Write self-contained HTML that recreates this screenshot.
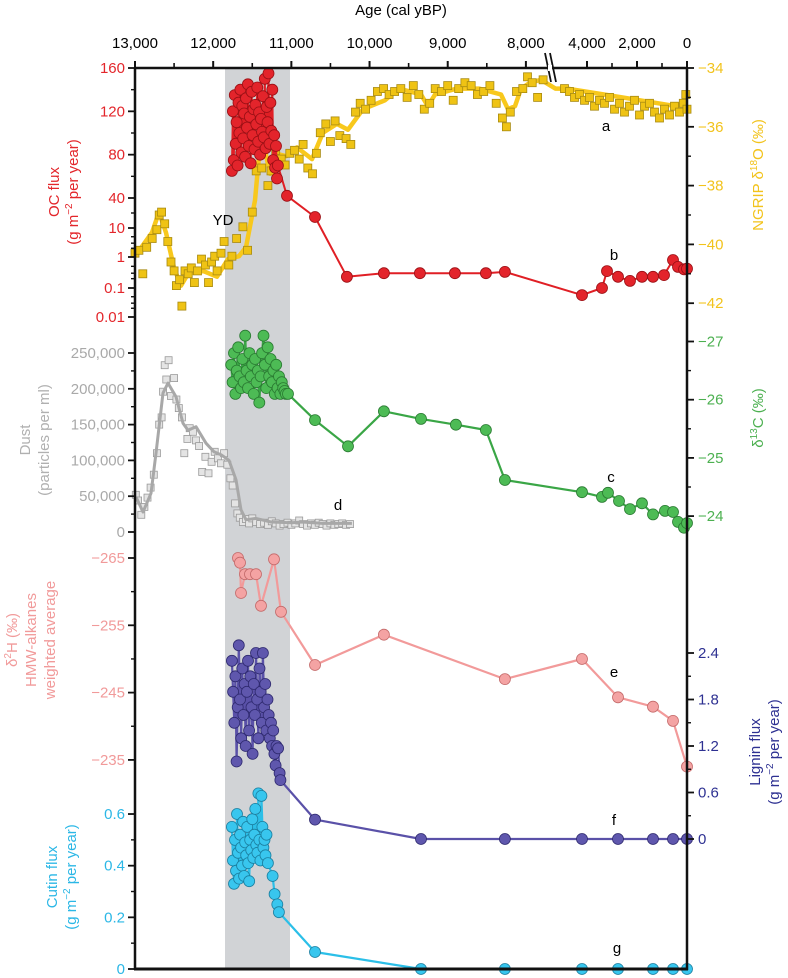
<!DOCTYPE html>
<html><head><meta charset="utf-8"><style>
html,body{margin:0;padding:0;background:#fff;}
svg{display:block;font-family:"Liberation Sans",sans-serif;}
</style></head><body>
<svg id="chart" width="788" height="978" viewBox="0 0 788 978" xmlns="http://www.w3.org/2000/svg">
<rect x="0" y="0" width="788" height="978" fill="#fff"/>
<rect x="225" y="69" width="65" height="900" fill="#d1d3d6"/>
<g id="plot"></g>
<g id="axes"></g>
<text x="401" y="15" font-size="15" text-anchor="middle">Age (cal yBP)</text>
<text x="223" y="225" font-size="15" text-anchor="middle">YD</text>
<text x="606" y="131" font-size="15" text-anchor="middle">a</text>
<text x="614" y="260" font-size="15" text-anchor="middle">b</text>
<text x="611" y="482" font-size="15" text-anchor="middle">c</text>
<text x="338" y="510" font-size="15" text-anchor="middle">d</text>
<text x="614" y="677" font-size="15" text-anchor="middle">e</text>
<text x="614" y="825" font-size="15" text-anchor="middle">f</text>
<text x="617" y="953" font-size="15" text-anchor="middle">g</text>
<g font-size="15" text-anchor="middle">
<text transform="translate(59,192) rotate(-90)" fill="#e3262b">OC flux</text>
<text transform="translate(78,192) rotate(-90)" fill="#e3262b">(g m<tspan font-size="10" dy="-6">−2</tspan><tspan dy="6"> per year)</tspan></text>
<text transform="translate(30,440) rotate(-90)" fill="#b0b0b0">Dust</text>
<text transform="translate(49,440) rotate(-90)" fill="#b0b0b0">(particles per ml)</text>
<text transform="translate(17,640) rotate(-90)" fill="#f19a9a">δ<tspan font-size="10" dy="-6">2</tspan><tspan dy="6">H (‰)</tspan></text>
<text transform="translate(36,640) rotate(-90)" fill="#f19a9a">HMW-alkanes</text>
<text transform="translate(55,640) rotate(-90)" fill="#f19a9a">weighted average</text>
<text transform="translate(57,877) rotate(-90)" fill="#2bb7e6">Cutin flux</text>
<text transform="translate(76,877) rotate(-90)" fill="#2bb7e6">(g m<tspan font-size="10" dy="-6">−2</tspan><tspan dy="6"> per year)</tspan></text>
<text transform="translate(763,175) rotate(-90)" fill="#f2c31c">NGRIP δ<tspan font-size="10" dy="-6">18</tspan><tspan dy="6">O (‰)</tspan></text>
<text transform="translate(763,418) rotate(-90)" fill="#4cb050">δ<tspan font-size="10" dy="-6">13</tspan><tspan dy="6">C (‰)</tspan></text>
<text transform="translate(760,752) rotate(-90)" fill="#2e3192">Lignin flux</text>
<text transform="translate(779,752) rotate(-90)" fill="#2e3192">(g m<tspan font-size="10" dy="-6">−2</tspan><tspan dy="6"> per year)</tspan></text>
</g>
</svg>
<script>
// ---------- data ----------
const topTickAges = [13000,12000,11000,10000,9000,8000,4000,2000,0];
const topTickLabels = ["13,000","12,000","11,000","10,000","9,000","8,000","4,000","2,000","0"];
const topMinorAges = [12500,11500,10500,9500,8500,3000,1000];

const ocTicks = [160,120,80,40,10,1,0.1,0.01];
const ocTickLabels = ["160","120","80","40","10","1","0.1","0.01"];
const o18Ticks = [-34,-36,-38,-40,-42];
const c13Ticks = [-27,-26,-25,-24];
const dustTicks = [0,50000,100000,150000,200000,250000];
const dustTickLabels = ["0","50,000","100,000","150,000","200,000","250,000"];
const h2Ticks = [-265,-255,-245,-235];
const ligTicks = [0,0.6,1.2,1.8,2.4];
const cutTicks = [0,0.2,0.4,0.6];

const ocAge = [11760,11748,11736,11724,11712,11700,11688,11676,11664,11652,11640,11628,11616,11604,11592,11580,11568,11556,11544,11532,11520,11508,11496,11484,11472,11460,11448,11436,11424,11412,11400,11388,11376,11364,11352,11340,11328,11316,11304,11292,11280,11268,11256,11244,11232,11220,11208,11196,11184,11172,11056,10698,10289,9816,9356,8908,8512,8269,4200,3400,3200,2760,2280,1800,1360,920,560,360,120,0];
const ocVal = [65,120,75,135,90,110,70,128,100,140,82,125,95,118,78,132,105,145,88,115,72,138,98,122,85,126,108,142,92,119,80,113,101,134,96,150,86,124,110,155,90,128,102,140,75,98,68,88,58,70,42,16.6,0.23,0.3,0.3,0.3,0.3,0.33,0.057,0.1,0.35,0.23,0.17,0.23,0.23,0.26,0.8,0.48,0.4,0.42];

const o18SmoothAge = [13000,12783,12693,12604,12501,12412,12322,12130,11951,11811,11670,11580,11465,11414,11337,11273,11209,11069,10928,10736,10596,10417,10276,10084,9803,9624,9342,9253,9163,8882,8600,8319,8229,8140,8063,7948,7807,6420,4800,3320,1880,440,0];
const o18SmoothVal = [-40.4,-39.6,-38.9,-39.6,-40.8,-41.4,-41.0,-40.9,-41.1,-40.5,-40.4,-40.1,-38.5,-37.0,-36.8,-37.6,-36.9,-37.0,-36.7,-37.1,-36.2,-35.9,-36.1,-35.4,-35.1,-34.7,-34.9,-35.3,-34.9,-34.7,-34.7,-34.9,-35.4,-35.3,-34.7,-34.5,-34.4,-34.7,-34.7,-34.9,-35.1,-35.3,-35.1];
const o18Age = [13000,12950,12900,12850,12780,12720,12690,12660,12620,12580,12540,12500,12470,12430,12400,12360,12320,12280,12240,12200,12150,12100,12060,12020,11980,11950,11900,11860,11800,11760,11700,11620,11560,11500,11450,11380,11300,11260,11200,11130,11080,11020,10960,10900,10850,10790,10730,10680,10630,10560,10500,10440,10380,10300,10240,10180,10120,10050,9980,9900,9820,9750,9680,9600,9520,9440,9370,9300,9230,9160,9080,9000,8930,8860,8780,8700,8620,8540,8460,8380,8300,8250,8200,8120,8040,7980,7920,7850,7780,4900,4700,4500,4300,4100,3900,3700,3500,3300,3100,2900,2700,2500,2300,2100,1900,1700,1500,1300,1100,900,700,500,300,150,50,0];
const o18Val = [-40.3,-40.2,-41.0,-40.1,-39.8,-39.5,-39.0,-38.9,-39.3,-39.9,-40.6,-40.9,-41.4,-41.2,-42.1,-40.9,-41.0,-40.8,-41.3,-40.9,-40.5,-40.7,-41.3,-40.6,-40.4,-40.9,-40.3,-39.9,-40.7,-40.4,-39.8,-39.4,-40.2,-38.9,-37.5,-37.4,-38.0,-37.5,-36.8,-37.1,-37.3,-36.9,-36.8,-37.1,-36.6,-37.4,-37.6,-36.9,-36.2,-35.9,-36.5,-35.8,-36.3,-36.4,-36.6,-35.5,-35.2,-35.4,-35.1,-34.8,-34.7,-34.9,-34.8,-34.7,-35.0,-34.6,-34.9,-35.4,-35.2,-34.7,-34.8,-34.6,-35.1,-34.7,-34.5,-34.6,-34.9,-34.8,-34.6,-35.2,-35.7,-36.0,-35.5,-34.8,-34.7,-34.3,-34.5,-35.0,-34.4,-34.7,-34.8,-35.0,-34.9,-35.1,-35.0,-35.3,-35.1,-35.2,-35.0,-35.4,-35.2,-35.5,-35.3,-35.1,-35.6,-35.3,-35.2,-35.5,-35.7,-35.4,-35.6,-35.3,-35.5,-35.2,-34.9,-35.4];

const c13Age = [11770,11752,11734,11716,11698,11680,11662,11644,11626,11608,11590,11572,11554,11536,11518,11500,11482,11464,11446,11428,11410,11392,11374,11356,11338,11320,11302,11284,11266,11248,11230,11212,11194,11176,11158,11140,11122,11104,11086,11070,11043,10698,10276,9816,9342,8895,8512,8269,4200,3400,3160,2720,2280,1800,1360,880,560,360,120,0];
const c13Val = [-26.6,-26.3,-26.8,-26.1,-26.5,-26.9,-26.4,-26.2,-26.7,-26.3,-27.1,-26.5,-26.2,-26.8,-26.4,-26.6,-26.1,-26.7,-26.3,-26.5,-25.95,-26.4,-26.8,-27.1,-26.6,-26.2,-26.9,-26.4,-26.7,-26.3,-26.5,-26.1,-26.6,-26.2,-26.4,-26.1,-26.3,-26.2,-26.15,-26.1,-26.1,-25.65,-25.2,-25.8,-25.67,-25.57,-25.48,-24.62,-24.41,-24.33,-24.4,-24.26,-24.12,-24.22,-24.03,-24.09,-24.07,-23.9,-23.8,-23.88];

const dustLineAge = [12987,12898,12795,12731,12642,12578,12476,12386,12322,12220,12092,11990,11900,11798,11708,11644,11580,11452,11260,11000,10864,10600,10225];
const dustLineVal = [49000,28000,54000,110000,194000,208000,189000,152000,142000,147000,124000,112000,108000,100000,73000,31000,17000,19000,14000,13000,14000,12000,12000];
const dustAge = [12990,12960,12920,12880,12840,12800,12760,12720,12690,12660,12640,12620,12600,12570,12540,12500,12470,12440,12400,12370,12330,12300,12260,12220,12180,12140,12100,12060,12020,11980,11940,11900,11860,11820,11780,11750,11720,11690,11660,11620,11580,11540,11500,11450,11400,11350,11300,11250,11200,11150,11100,11050,11000,10950,10900,10850,10800,10750,10700,10650,10600,10550,10500,10450,10400,10350,10300,10250];
const dustVal = [52000,44000,24000,35000,48000,62000,80000,110000,150000,160000,196000,233000,213000,240000,190000,215000,185000,173000,160000,110000,130000,145000,140000,128000,120000,84000,105000,82000,98000,112000,103000,96000,110000,94000,75000,65000,40000,26000,20000,14000,18000,12000,19000,14000,11000,13000,10000,15000,12000,9000,11000,13000,10000,12000,16000,11000,9000,12000,10000,13000,11000,9000,12000,10000,11000,12000,10000,11000];

const h2Age = [11683,11657,11644,11593,11529,11452,11388,11222,11133,10698,9816,8269,4200,2760,1360,560,0];
const h2Val = [-265,-264.3,-259.8,-262.6,-262.6,-262.6,-257.9,-264.8,-257,-249.1,-253.6,-247,-250,-244.3,-242.9,-240.8,-234];

const ligAge = [11760,11745,11730,11716,11701,11686,11672,11657,11642,11628,11613,11598,11584,11569,11554,11540,11525,11510,11496,11481,11466,11452,11437,11422,11408,11393,11378,11364,11349,11334,11320,11305,11290,11276,11261,11246,11232,11217,11202,11190,11170,11150,11140,10698,9342,8269,4200,2760,1360,560,0];
const ligVal = [2.3,1.9,1.5,2.1,1.0,1.7,2.5,1.8,1.3,2.2,1.6,2.0,1.2,1.9,2.3,1.4,2.1,1.7,1.1,2.0,1.6,2.4,1.8,1.3,2.2,1.9,1.5,2.4,1.7,2.0,1.4,1.8,1.6,1.3,1.5,1.2,1.4,1.1,0.95,1.2,1.17,0.85,0.76,0.25,0,0,0,0,0,0,0];

const cutAge = [11760,11747,11734,11721,11708,11695,11682,11669,11656,11643,11630,11617,11604,11591,11578,11565,11552,11539,11526,11513,11500,11487,11474,11461,11448,11435,11422,11409,11396,11383,11370,11357,11344,11331,11318,11300,11240,11215,11180,11160,10698,9342,8269,4200,2760,1360,560,0];
const cutVal = [0.55,0.42,0.33,0.5,0.38,0.6,0.45,0.35,0.52,0.47,0.4,0.57,0.36,0.49,0.44,0.55,0.41,0.34,0.5,0.46,0.58,0.43,0.52,0.62,0.48,0.45,0.68,0.5,0.42,0.67,0.55,0.47,0.5,0.44,0.52,0.41,0.36,0.29,0.25,0.22,0.066,0,0,0,0,0,0,0];

// ---------- scales ----------
function X(a){ if(a>=7700) return 135+(13000-a)*0.07818; if(a<=5000) return 687-a*0.025; return 549.4+(7700-a)/2700*(562-549.4); }
const ocKnots=[[40,198],[10,228],[1,257],[0.1,288],[0.01,317]];
function yOC(v){ if(v>=40) return 198-(v-40)*1.0833;
  for(let i=0;i<ocKnots.length-1;i++){ const a=ocKnots[i],b=ocKnots[i+1];
    if(v>=b[0]||i===ocKnots.length-2){ const t=(Math.log10(v)-Math.log10(a[0]))/(Math.log10(b[0])-Math.log10(a[0])); return a[1]+t*(b[1]-a[1]); } } }
function yO18(v){ return 68+(-34-v)*29.4; }
function yC13(v){ return 341.5+(v+27)*58.2; }
function yDust(v){ return 532-v*0.000716; }
function yH2(v){ return 558+(v+265)*6.73; }
function yLig(v){ return 839-v*77.5; }
function yCut(v){ return 969-v*258.3; }

const NS="http://www.w3.org/2000/svg";
const plot=document.getElementById('plot');
const axes=document.getElementById('axes');
function mk(tag,attrs,parent){ const e=document.createElementNS(NS,tag); for(const k in attrs) e.setAttribute(k,attrs[k]); (parent||plot).appendChild(e); return e; }

function line(ages,vals,ys,color,w,name){
  const d=ages.map((a,i)=>(i?'L':'M')+X(a).toFixed(1)+','+ys(vals[i]).toFixed(1)).join('');
  const p=mk('path',{d:d,fill:'none',stroke:color,'stroke-width':w,'stroke-linejoin':'round'});
  
  
}
function dots(ages,vals,ys,fill,stroke,r,name){
  ages.forEach((a,i)=>{ const c=mk('circle',{cx:X(a).toFixed(1),cy:ys(vals[i]).toFixed(1),r:r,fill:fill,stroke:stroke,'stroke-width':0.8});
    
     });
}
function squares(ages,vals,ys,fill,stroke,s,name){
  ages.forEach((a,i)=>{ const q=mk('rect',{x:(X(a)-s/2).toFixed(1),y:(ys(vals[i])-s/2).toFixed(1),width:s,height:s,fill:fill,stroke:stroke,'stroke-width':0.8});
    
     });
}

// yellow NGRIP
line(o18SmoothAge,o18SmoothVal,yO18,'#f8c81c',4.5,'ngrip-smooth-line');
squares(o18Age,o18Val,yO18,'#efc314','#a88a10',8,'ngrip-point');
// red OC
line(ocAge,ocVal,yOC,'#e01f25',2,'oc-flux-line');
dots(ocAge,ocVal,yOC,'#e3242b','#9a1015',5.5,'oc-flux-point');
// grey dust
squares(dustAge,dustVal,yDust,'#e4e4e4','#9a9a9a',7,'dust-point');
line(dustLineAge,dustLineVal,yDust,'#a8a8a8',3,'dust-smooth-line');
// green d13C
line(c13Age,c13Val,yC13,'#3aa646',2.2,'d13c-line');
dots(c13Age,c13Val,yC13,'#4dbb55','#2a7a32',5.5,'d13c-point');
// pink d2H
line(h2Age,h2Val,yH2,'#f29a9a',2.2,'d2h-line');
dots(h2Age,h2Val,yH2,'#f4a3a3','#c46a6a',5.5,'d2h-point');
// lignin
line(ligAge,ligVal,yLig,'#5a51a8',2.2,'lignin-line');
dots(ligAge,ligVal,yLig,'#5f57ad','#2f2a70',5.5,'lignin-point');
// cutin
line(cutAge,cutVal,yCut,'#2bbfe8',2.2,'cutin-line');
dots(cutAge,cutVal,yCut,'#38c6ee','#1b7fa0',5.5,'cutin-point');

// ---------- axes ----------
function ax(tag,attrs,name){ const e=mk(tag,attrs,axes);   return e; }
ax('line',{x1:135,y1:68,x2:135,y2:970,stroke:'#111','stroke-width':2.5},'left-axis-line');
ax('line',{x1:687,y1:68,x2:687,y2:970,stroke:'#111','stroke-width':2.5},'right-axis-line');
ax('line',{x1:134,y1:68,x2:688,y2:68,stroke:'#111','stroke-width':2.5},'top-axis-line');
ax('line',{x1:134,y1:969,x2:688,y2:969,stroke:'#111','stroke-width':3},'bottom-axis-line');
// break marks
ax('line',{x1:545,y1:53,x2:551,y2:82,stroke:'#111','stroke-width':1.8},'axis-break-mark');
ax('line',{x1:550,y1:53,x2:556,y2:82,stroke:'#111','stroke-width':1.8},'axis-break-mark');
ax('rect',{x:548,y:65,width:4,height:6,fill:'#fff'},'axis-break-gap');

topTickAges.forEach((a,i)=>{
  ax('line',{x1:X(a),y1:68,x2:X(a),y2:61,stroke:'#111','stroke-width':2},'top-major-tick');
  const t=ax('text',{x:X(a),y:48,'font-size':15,'text-anchor':'middle'},'top-tick-label'); t.textContent=topTickLabels[i];
});
topMinorAges.forEach(a=>{ ax('line',{x1:X(a),y1:68,x2:X(a),y2:63,stroke:'#111','stroke-width':1.6},'top-minor-tick'); });

function leftTicks(vals,labels,ys,color,minors,name){
  vals.forEach((v,i)=>{ const y=ys(v);
    ax('line',{x1:128,y1:y,x2:135,y2:y,stroke:'#111','stroke-width':1.8},name+'-major-tick');
    const t=ax('text',{x:125,y:y+5,'font-size':15,'text-anchor':'end',fill:color},name+'-tick-label'); t.textContent=labels?labels[i]:String(v).replace('-','−'); });
  minors.forEach(v=>{ const y=ys(v); ax('line',{x1:131,y1:y,x2:135,y2:y,stroke:'#111','stroke-width':1.4},name+'-minor-tick'); });
}
function rightTicks(vals,labels,ys,color,minors,name){
  vals.forEach((v,i)=>{ const y=ys(v);
    ax('line',{x1:687,y1:y,x2:694,y2:y,stroke:'#111','stroke-width':1.8},name+'-major-tick');
    const t=ax('text',{x:698,y:y+5,'font-size':15,fill:color},name+'-tick-label'); t.textContent=labels?labels[i]:String(v).replace('-','−'); });
  minors.forEach(v=>{ const y=ys(v); ax('line',{x1:687,y1:y,x2:691,y2:y,stroke:'#111','stroke-width':1.4},name+'-minor-tick'); });
}
leftTicks(ocTicks,ocTickLabels,yOC,'#e3262b',[140,100,60,20,5,3,2,0.5,0.3,0.2,0.05,0.03,0.02],'oc-flux');
leftTicks(dustTicks,dustTickLabels,yDust,'#a9a9a9',[25000,75000,125000,175000,225000],'dust');
leftTicks(h2Ticks,null,yH2,'#f19a9a',[-260,-250,-240],'d2h');
leftTicks(cutTicks,null,yCut,'#2bb7e6',[0.1,0.3,0.5],'cutin');
rightTicks(o18Ticks,null,yO18,'#f2c31c',[-35,-37,-39,-41],'ngrip');
rightTicks(c13Ticks,null,yC13,'#4cb050',[-26.5,-25.5,-24.5],'d13c');
rightTicks(ligTicks,null,yLig,'#2e3192',[0.3,0.9,1.5,2.1],'lignin');
</script>
</body></html>
